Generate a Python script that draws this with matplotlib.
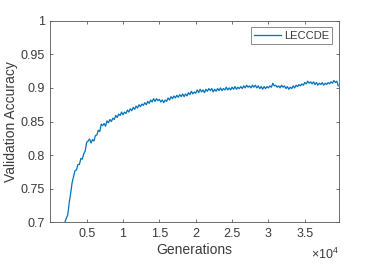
import numpy as np
import matplotlib
matplotlib.use("Agg")
import matplotlib.pyplot as plt
from matplotlib.ticker import FuncFormatter

# Data
gen_start = 2000
gen_step = 200
accuracy = [
    0.700, 0.706, 0.711, 0.729, 0.743, 0.759, 0.768, 0.777, 0.778, 0.786,
    0.786, 0.795, 0.794, 0.802, 0.806, 0.819, 0.821, 0.824, 0.818, 0.823,
    0.821, 0.829, 0.830, 0.837, 0.835, 0.846, 0.844, 0.847, 0.843, 0.851,
    0.848, 0.853, 0.850, 0.855, 0.853, 0.859, 0.856, 0.861, 0.859, 0.864,
    0.860, 0.864, 0.862, 0.867, 0.864, 0.869, 0.866, 0.871, 0.868, 0.873,
    0.870, 0.875, 0.872, 0.876, 0.874, 0.878, 0.875, 0.880, 0.877, 0.882,
    0.879, 0.884, 0.880, 0.884, 0.881, 0.883, 0.879, 0.882, 0.878, 0.882,
    0.880, 0.885, 0.882, 0.887, 0.884, 0.888, 0.885, 0.889, 0.886, 0.890,
    0.887, 0.891, 0.887, 0.891, 0.888, 0.893, 0.890, 0.895, 0.891, 0.894,
    0.892, 0.897, 0.893, 0.898, 0.894, 0.897, 0.893, 0.898, 0.895, 0.899,
    0.896, 0.899, 0.894, 0.898, 0.895, 0.899, 0.896, 0.900, 0.896, 0.899,
    0.897, 0.901, 0.897, 0.900, 0.897, 0.901, 0.898, 0.902, 0.898, 0.901,
    0.899, 0.902, 0.899, 0.903, 0.900, 0.904, 0.901, 0.903, 0.900, 0.904,
    0.901, 0.904, 0.900, 0.903, 0.899, 0.902, 0.898, 0.902, 0.899, 0.902,
    0.900, 0.903, 0.901, 0.907, 0.903, 0.904, 0.901, 0.903, 0.900, 0.904,
    0.901, 0.903, 0.899, 0.902, 0.898, 0.901, 0.899, 0.903, 0.900, 0.904,
    0.902, 0.905, 0.903, 0.906, 0.904, 0.908, 0.906, 0.910, 0.907, 0.909,
    0.906, 0.909, 0.905, 0.908, 0.904, 0.907, 0.905, 0.908, 0.904, 0.907,
    0.905, 0.908, 0.906, 0.909, 0.907, 0.911, 0.908, 0.910, 0.903,
]
generations = gen_start + gen_step * np.arange(len(accuracy))
xticks = [5000, 10000, 15000, 20000, 25000, 30000, 35000]
yticks = [0.7, 0.75, 0.8, 0.85, 0.9, 0.95, 1.0]
series_label = "LECCDE"

plt.rcParams['font.family'] = ['Liberation Sans', 'DejaVu Sans']
plt.rcParams['mathtext.fontset'] = 'custom'
plt.rcParams['mathtext.rm'] = 'Liberation Sans'
plt.rcParams['mathtext.it'] = 'Liberation Sans'

dark = '#3a3a3a'
fig = plt.figure(figsize=(3.74, 2.65), dpi=100)
ax = fig.add_axes([0.1345, 0.1611, 0.7719, 0.7608])
ax.plot(generations, accuracy, color='#0072BD', lw=0.9, label=series_label)

ax.set_xlim(0, 39700)
ax.set_ylim(0.7, 1.0)
ax.set_xticks(xticks)
ax.set_yticks(yticks)
ax.xaxis.set_major_formatter(FuncFormatter(lambda v, p: '%g' % (v / 1e4)))
ax.yaxis.set_major_formatter(FuncFormatter(lambda v, p: '%g' % v))
ax.tick_params(direction='in', length=2.5, width=0.5, colors=dark,
               labelsize=9, top=True, right=True, pad=4)
for s in ax.spines.values():
    s.set_color('#555555')
    s.set_linewidth(0.6)

ax.set_xlabel('Generations', fontsize=10, color=dark, labelpad=2)
ax.set_ylabel('Validation Accuracy', fontsize=10, color=dark, labelpad=2)
ax.text(1.0, -0.12, r'$\times10^{4}$', transform=ax.transAxes,
        ha='right', va='top', fontsize=9, color=dark)

leg = ax.legend(loc='upper right', fontsize=8, frameon=True, fancybox=False,
                handlelength=2.4, borderpad=0.3, borderaxespad=0.6,
                handletextpad=0.3)
leg.get_frame().set_edgecolor('#555555')
leg.get_frame().set_linewidth(0.6)
for t in leg.get_texts():
    t.set_color(dark)

fig.savefig('out.png', dpi=100)
